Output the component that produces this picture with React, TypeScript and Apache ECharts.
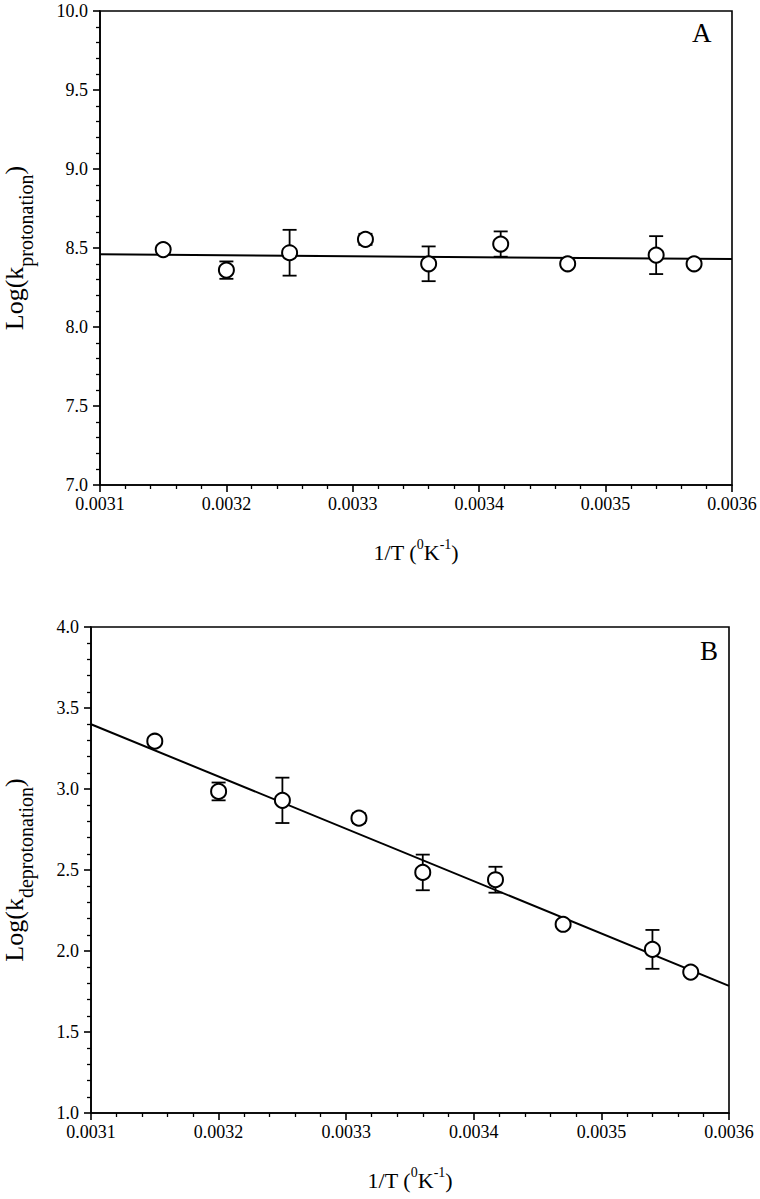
import React, { useEffect, useRef } from "react";
import * as echarts from "echarts";

// 1/T values (K^-1)
const invT = [0.00315, 0.0032, 0.00325, 0.00331, 0.00336, 0.003417, 0.00347, 0.00354, 0.00357];
// Panel A: Log(k_protonation)
const logKprot = [8.49, 8.36, 8.47, 8.555, 8.40, 8.525, 8.40, 8.455, 8.40];
const errProt = [0.02, 0.055, 0.145, 0.035, 0.11, 0.08, 0.02, 0.12, 0.02];
// Panel B: Log(k_deprotonation)
const logKdeprot = [3.295, 2.985, 2.93, 2.82, 2.485, 2.44, 2.165, 2.01, 1.87];
const errDeprot = [0.02, 0.055, 0.14, 0.03, 0.11, 0.08, 0.02, 0.12, 0.02];
// Linear fits (endpoints)
const fitX = [0.0031, 0.0036];
const fitA = [8.46, 8.43];
const fitB = [3.40, 1.785];

const FONT = "Liberation Serif";

function errorBarRender(params: any, api: any) {
  const x = api.value(0);
  const y = api.value(1);
  const e = api.value(2);
  const top = api.coord([x, y + e]);
  const bot = api.coord([x, y - e]);
  const hw = 7;
  const st = { stroke: "#000", lineWidth: 1.8 };
  return {
    type: "group",
    children: [
      { type: "line", shape: { x1: top[0], y1: top[1], x2: bot[0], y2: bot[1] }, style: st },
      { type: "line", shape: { x1: top[0] - hw, y1: top[1], x2: top[0] + hw, y2: top[1] }, style: st },
      { type: "line", shape: { x1: bot[0] - hw, y1: bot[1], x2: bot[0] + hw, y2: bot[1] }, style: st },
    ],
  };
}

function xAxisDef(gridIndex: number) {
  return {
    type: "value",
    gridIndex,
    min: 0.0031,
    max: 0.0036,
    interval: 0.0001,
    name: "{b|1/T (}{s|0}{b|K}{s|-1}{b|)}",
    nameLocation: "middle",
    nameGap: 52,
    nameTextStyle: {
      rich: {
        b: { fontFamily: FONT, fontSize: 22, color: "#000", lineHeight: 26, verticalAlign: "bottom" },
        s: { fontFamily: FONT, fontSize: 14, color: "#000", lineHeight: 12, verticalAlign: "top" },
      },
    },
    axisLine: { show: true, onZero: false, lineStyle: { color: "#000", width: 1.6 } },
    axisTick: { show: true, length: 7, lineStyle: { color: "#000", width: 1.6 } },
    minorTick: { show: true, splitNumber: 5, length: 4, lineStyle: { color: "#000", width: 1.3 } },
    splitLine: { show: false },
    axisLabel: {
      fontFamily: FONT,
      fontSize: 18,
      color: "#000",
      margin: 10,
      formatter: (v: number) => v.toFixed(4),
    },
  };
}

function yAxisDef(gridIndex: number, min: number, max: number, sub: string, gap: number) {
  return {
    type: "value",
    gridIndex,
    min,
    max,
    interval: 0.5,
    name: `{b|Log(k}{s|${sub}}{b|)}`,
    nameLocation: "middle",
    nameRotate: 90,
    nameGap: gap,
    nameTextStyle: {
      rich: {
        b: { fontFamily: FONT, fontSize: 26, color: "#000", lineHeight: 35, verticalAlign: "top" },
        s: { fontFamily: FONT, fontSize: 20, color: "#000", lineHeight: 16, verticalAlign: "bottom" },
      },
    },
    axisLine: { show: true, onZero: false, lineStyle: { color: "#000", width: 1.6 } },
    axisTick: { show: true, length: 7, lineStyle: { color: "#000", width: 1.6 } },
    minorTick: { show: true, splitNumber: 5, length: 4, lineStyle: { color: "#000", width: 1.3 } },
    splitLine: { show: false },
    axisLabel: {
      fontFamily: FONT,
      fontSize: 18,
      lineHeight: 14,
      color: "#000",
      margin: 12,
      formatter: (v: number) => v.toFixed(1),
    },
  };
}

export default function App() {
  const ref = useRef<HTMLDivElement>(null);
  useEffect(() => {
    if (!ref.current) return;
    const chart = echarts.init(ref.current, null, { renderer: "svg" });
    const dataA = invT.map((x, i) => [x, logKprot[i], errProt[i]]);
    const dataB = invT.map((x, i) => [x, logKdeprot[i], errDeprot[i]]);
    const scatterStyle = {
      symbol: "circle",
      symbolSize: 15,
      itemStyle: { color: "#fff", borderColor: "#000", borderWidth: 2, opacity: 1 },
      z: 4,
    };
    chart.setOption({
      animation: false,
      backgroundColor: "#fff",
      grid: [
        { left: 100, top: 11, width: 632, height: 474, outerBoundsMode: "none", containLabel: false, show: true, borderColor: "#000", borderWidth: 1.6, backgroundColor: "transparent" },
        { left: 91, top: 627, width: 638, height: 486, outerBoundsMode: "none", containLabel: false, show: true, borderColor: "#000", borderWidth: 1.6, backgroundColor: "transparent" },
      ],
      xAxis: [xAxisDef(0), xAxisDef(1)],
      yAxis: [yAxisDef(0, 7, 10, "protonation", 64), yAxisDef(1, 1, 4, "deprotonation", 55)],
      graphic: [
        { type: "text", left: 692, top: 19, style: { text: "A", fontFamily: FONT, fontSize: 27, fill: "#000" } },
        { type: "text", left: 700, top: 637, style: { text: "B", fontFamily: FONT, fontSize: 27, fill: "#000" } },
      ],
      series: [
        {
          type: "line",
          xAxisIndex: 0,
          yAxisIndex: 0,
          data: fitX.map((x, i) => [x, fitA[i]]),
          showSymbol: false,
          lineStyle: { color: "#000", width: 2 },
          z: 2,
        },
        {
          type: "custom",
          xAxisIndex: 0,
          yAxisIndex: 0,
          renderItem: errorBarRender,
          data: dataA,
          encode: { x: 0, y: 1 },
          z: 3,
        },
        { type: "scatter", xAxisIndex: 0, yAxisIndex: 0, data: dataA.map((d) => [d[0], d[1]]), ...scatterStyle },
        {
          type: "line",
          xAxisIndex: 1,
          yAxisIndex: 1,
          data: fitX.map((x, i) => [x, fitB[i]]),
          showSymbol: false,
          lineStyle: { color: "#000", width: 2 },
          z: 2,
        },
        {
          type: "custom",
          xAxisIndex: 1,
          yAxisIndex: 1,
          renderItem: errorBarRender,
          data: dataB,
          encode: { x: 0, y: 1 },
          z: 3,
        },
        { type: "scatter", xAxisIndex: 1, yAxisIndex: 1, data: dataB.map((d) => [d[0], d[1]]), ...scatterStyle },
      ],
    });
    return () => chart.dispose();
  }, []);
  return (
    <div
      ref={ref}
      style={{ position: "fixed", left: 0, top: 0, width: 760, height: 1199, background: "#fff" }}
    />
  );
}
